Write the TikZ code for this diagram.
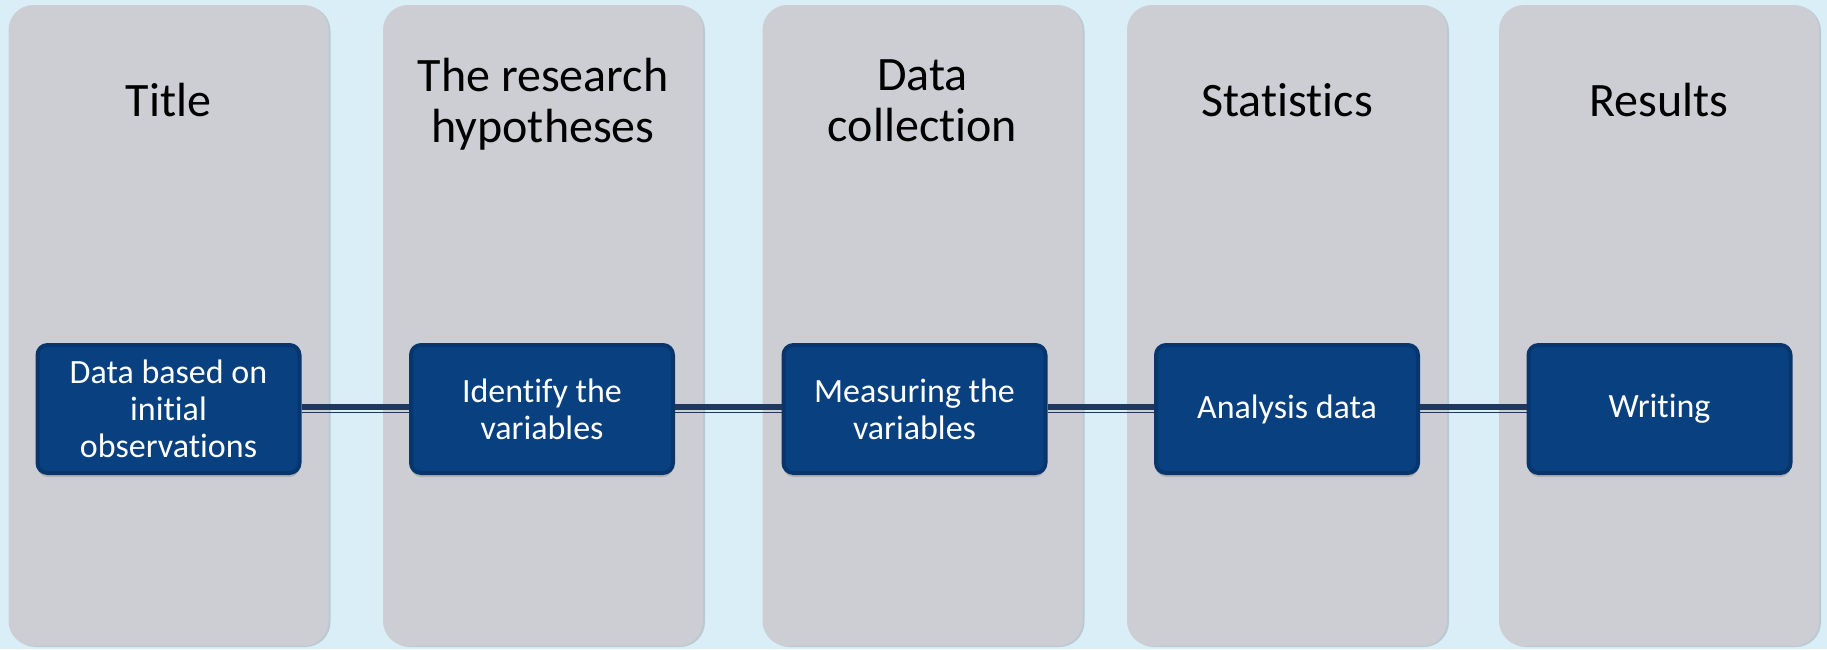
\documentclass[tikz,border=0pt]{standalone}
\usepackage{fontspec}
\setmainfont[Ligatures=NoCommon]{Carlito}
\usetikzlibrary{shadows}
\definecolor{bgblue}{RGB}{218,238,247}
\definecolor{colgray}{RGB}{205,206,211}
\definecolor{boxblue}{RGB}{9,64,127}
\definecolor{boxedge}{RGB}{7,54,110}
\definecolor{linkblue}{RGB}{30,56,98}
\begin{document}
\begin{tikzpicture}[x=0.5pt,y=-0.5pt,line join=round,
	column/.style={fill=colgray,rounded corners=12.5pt,minimum width=160pt,minimum height=320.5pt,inner sep=0pt,
		drop shadow={shadow xshift=1pt,shadow yshift=-0.5pt,opacity=.6,fill=black!25!bgblue}},
	heading/.style={font=\fontsize{24}{25.5}\selectfont,align=center,text=black},
	stepbox/.style={rounded corners=5pt,minimum width=131pt,minimum height=64pt,inner sep=0pt,
		fill=boxblue,draw=boxedge,line width=2pt,text=white,align=center,
		font=\fontsize{17}{18.5}\selectfont,drop shadow={shadow xshift=0pt,shadow yshift=-2pt,opacity=.35}},
	link/.style={linkblue,line width=3pt},
	linkthin/.style={linkblue,line width=0.75pt}]
	\fill[bgblue] (0,0) rectangle (1827,649);
	\useasboundingbox (0,0) rectangle (1827,649);
	\node[column] (c1) at (168.5,325.5) {};
	\node[column] (c2) at (543,325.5) {};
	\node[column] (c3) at (922.5,325.5) {};
	\node[column] (c4) at (1287,325.5) {};
	\node[column] (c5) at (1659,325.5) {};
	\node[heading] (h1) at (168.5,100) {Title};
	\node[heading] (h2) at (543,104) {The research\\hypotheses};
	\node[heading] (h3) at (922.5,101) {Data\\collection};
	\node[heading] (h4) at (1287,100) {Statistics};
	\node[heading] (h5) at (1659,100) {Results};
	\node[stepbox] (b1) at (168.5,409) {Data based on\\initial\\observations};
	\node[stepbox] (b2) at (542,409) {Identify the\\variables};
	\node[stepbox] (b3) at (914.5,409) {Measuring the\\variables};
	\node[stepbox] (b4) at (1287,409) {Analysis data};
	\node[stepbox] (b5) at (1659.5,409) {Writing};
	\draw[link] ([yshift=1pt]b1.east)--([yshift=1pt]b2.west) ([yshift=1pt]b2.east)--([yshift=1pt]b3.west)
	([yshift=1pt]b3.east)--([yshift=1pt]b4.west) ([yshift=1pt]b4.east)--([yshift=1pt]b5.west);
	\draw[linkthin] ([yshift=-1.75pt]b1.east)--([yshift=-1.75pt]b2.west) ([yshift=-1.75pt]b2.east)--([yshift=-1.75pt]b3.west)
	([yshift=-1.75pt]b3.east)--([yshift=-1.75pt]b4.west) ([yshift=-1.75pt]b4.east)--([yshift=-1.75pt]b5.west);
\end{tikzpicture}
\end{document}
